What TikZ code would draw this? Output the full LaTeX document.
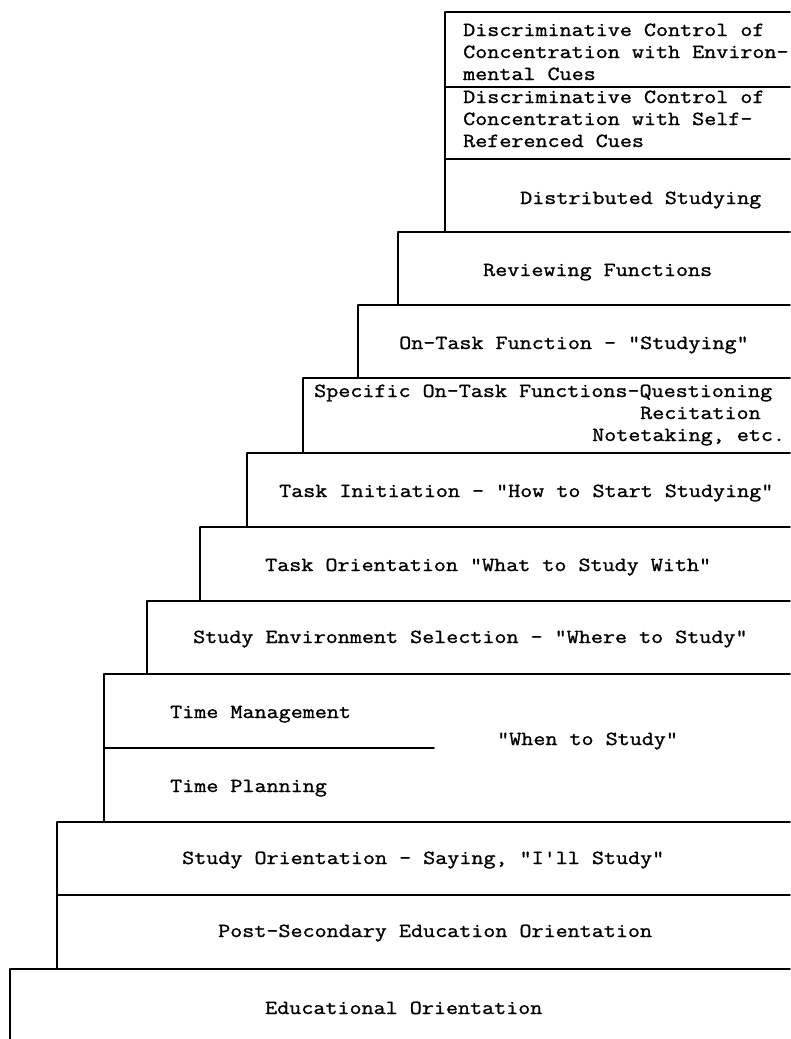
\documentclass[tikz,border=0pt]{standalone}
\usepackage{fontspec}
\setmonofont{Latin Modern Mono}[FakeStretch=1.17,FakeBold=1.2]
\begin{document}
\begin{tikzpicture}[x=1pt,y=-1pt,
  stair/.style={line width=1.5pt,line cap=round},
  lbl/.style={anchor=base west,inner sep=0pt,font=\ttfamily\fontsize{20}{22}\selectfont}]
\useasboundingbox (0,0) rectangle (790,1039);
% staircase outline
\draw[stair] (445,12) -- (790,12);
\draw[stair] (445,87) -- (790,87);
\draw[stair] (445,159) -- (790,159);
\draw[stair] (445,12) -- (445,232);
\draw[stair] (398,232) -- (790,232);
\draw[stair] (398,232) -- (398,305);
\draw[stair] (358,305) -- (790,305);
\draw[stair] (358,305) -- (358,378);
\draw[stair] (303,378) -- (790,378);
\draw[stair] (303,378) -- (303,453);
\draw[stair] (247,453) -- (790,453);
\draw[stair] (247,453) -- (247,527);
\draw[stair] (200,527) -- (790,527);
\draw[stair] (200,527) -- (200,601);
\draw[stair] (147,601) -- (790,601);
\draw[stair] (147,601) -- (147,674);
\draw[stair] (104,674) -- (790,674);
\draw[stair] (104,748) -- (434,748);
\draw[stair] (104,674) -- (104,822);
\draw[stair] (57,822) -- (790,822);
\draw[stair] (57,895) -- (790,895);
\draw[stair] (57,822) -- (57,969);
\draw[stair] (10,969) -- (790,969);
\draw[stair] (10,969) -- (10,1039);
% labels
\node[lbl] (d1a) at (463,36) {Discriminative Control of};
\node[lbl] (d1b) at (463,58) {Concentration with Environ-};
\node[lbl] (d1c) at (463,80) {mental Cues};
\node[lbl] (d2a) at (463,103) {Discriminative Control of};
\node[lbl] (d2b) at (463,125) {Concentration with Self-};
\node[lbl] (d2c) at (463,147) {Referenced Cues};
\node[lbl] (dist) at (520,204) {Distributed Studying};
\node[lbl] (rev) at (483,276) {Reviewing Functions};
\node[lbl] (ontask) at (399,349) {On-Task Function - "Studying"};
\node[lbl] (spec1) at (314,397) {Specific On-Task Functions-Questioning};
\node[lbl] (spec2) at (640,419) {Recitation};
\node[lbl] (spec3) at (592,441) {Notetaking, etc.};
\node[lbl] (init) at (279,497) {Task Initiation - "How to Start Studying"};
\node[lbl] (orient) at (265,571) {Task Orientation "What to Study With"};
\node[lbl] (env) at (193,643) {Study Environment Selection - "Where to Study"};
\node[lbl] (tman) at (170,718) {Time Management};
\node[lbl] (when) at (497,745) {"When to Study"};
\node[lbl] (tplan) at (170,792) {Time Planning};
\node[lbl] (sorient) at (182,864) {Study Orientation - Saying, "I'll Study"};
\node[lbl] (post) at (218,937) {Post-Secondary Education Orientation};
\node[lbl] (edu) at (265,1014) {Educational Orientation};
\end{tikzpicture}
\end{document}
